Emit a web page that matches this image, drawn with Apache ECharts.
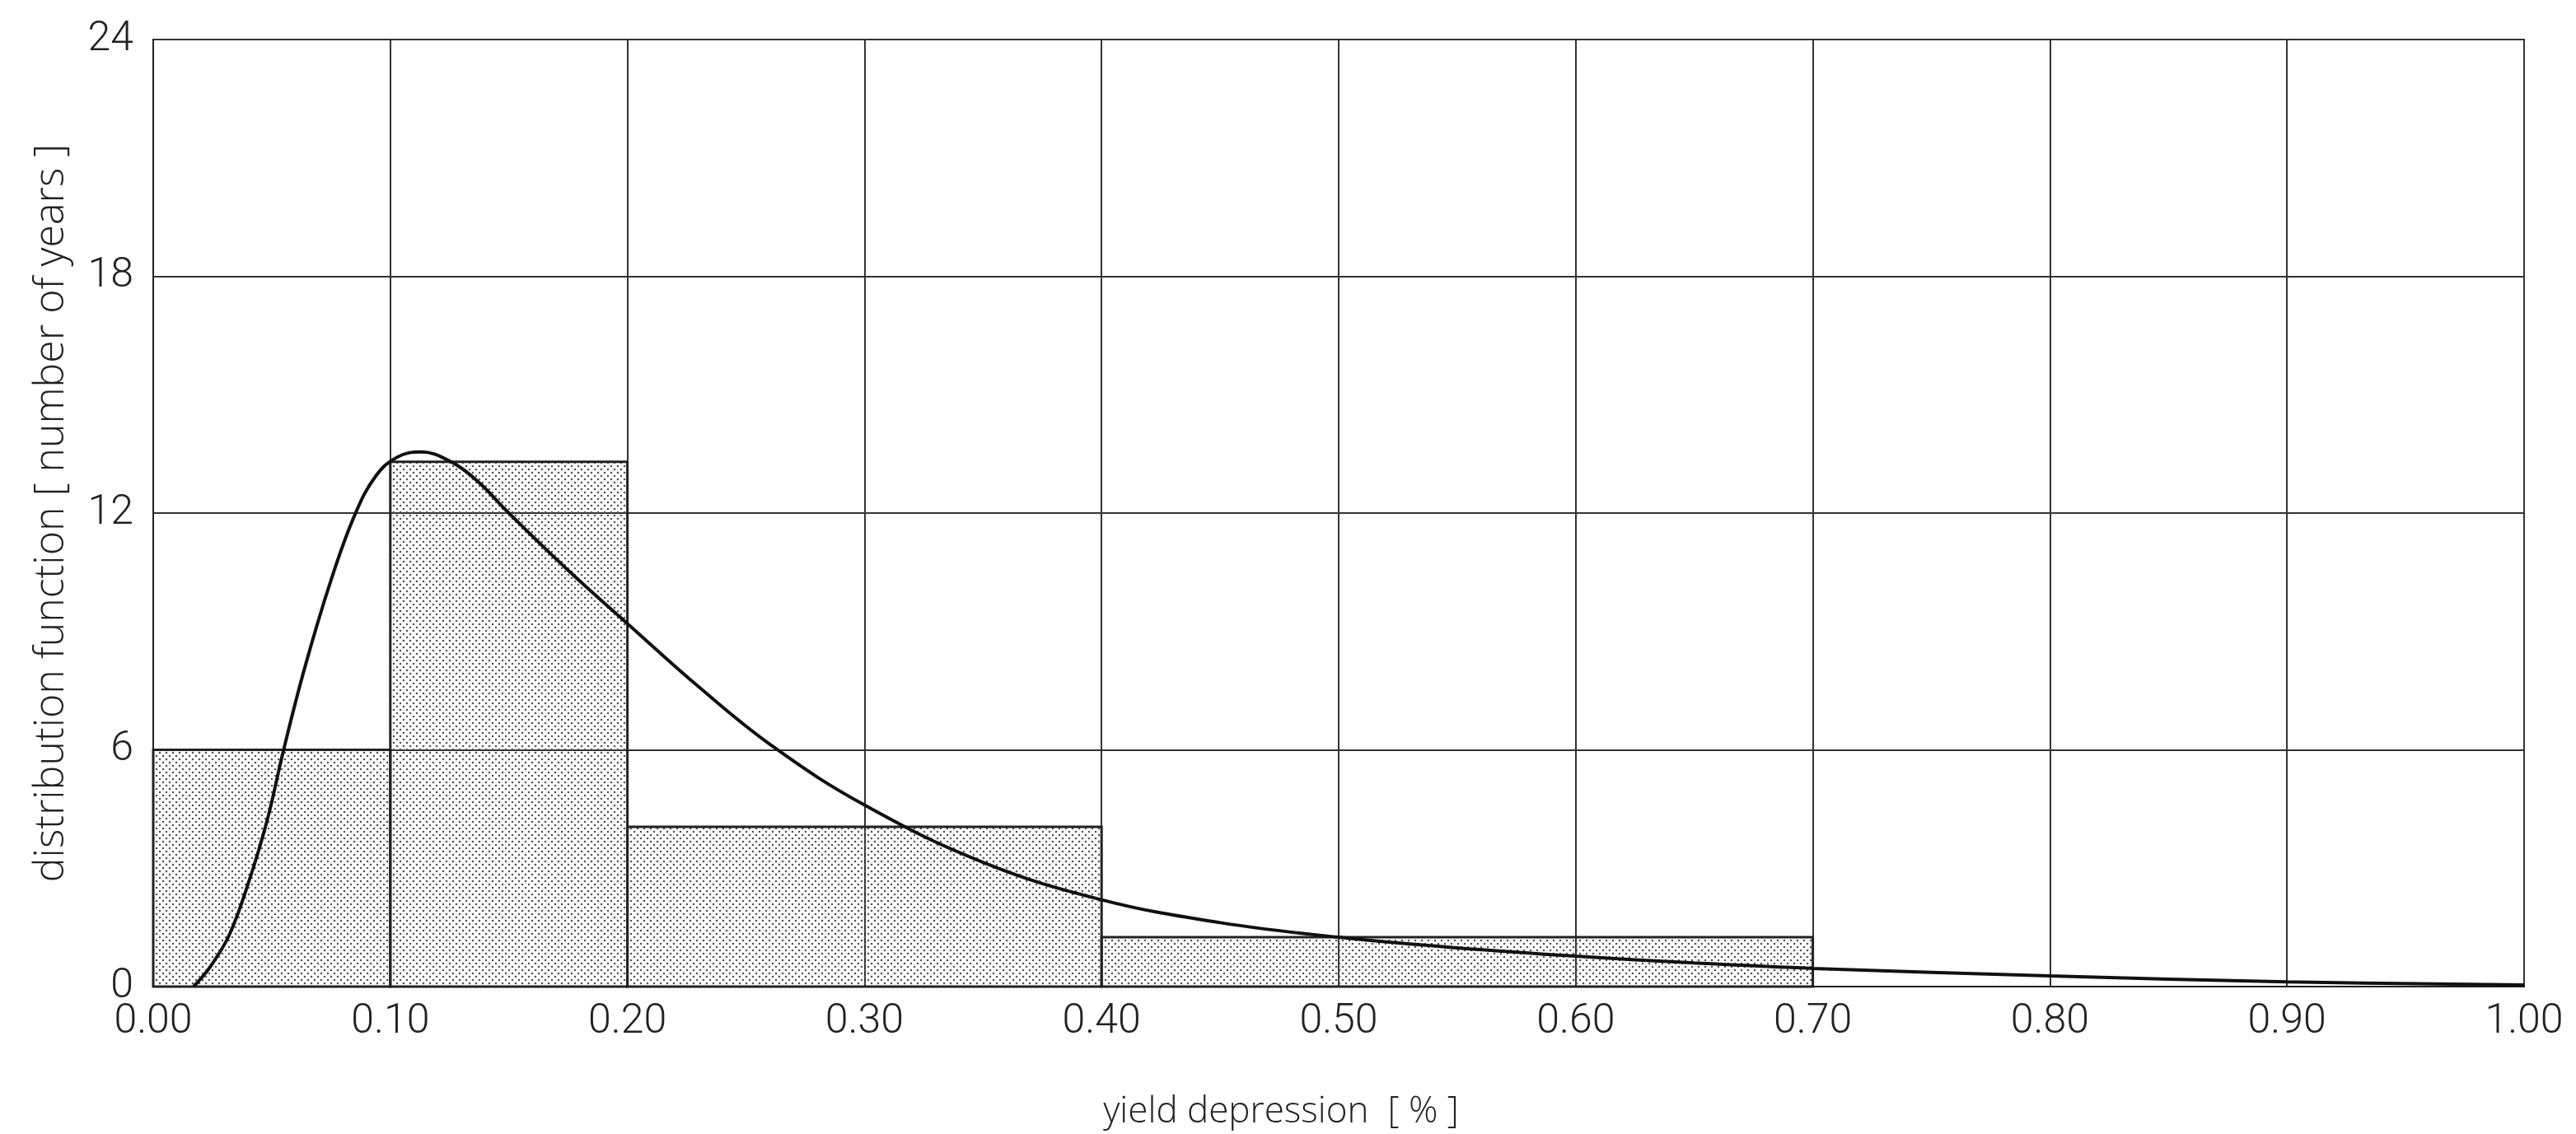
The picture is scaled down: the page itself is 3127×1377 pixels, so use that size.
<!DOCTYPE html>
<html>
<head>
<meta charset="utf-8">
<script src="https://cdn.jsdelivr.net/npm/echarts@6/dist/echarts.min.js"></script>
<style>
  html, body { margin: 0; padding: 0; background: #fff; }
  #main { width: 3127px; height: 1377px; }
</style>
</head>
<body>
<div id="main"></div>
<script>
// histogram bins (yield depression %), counts in years
const binStart = [0.0, 0.1, 0.2, 0.4];
const binEnd = [0.1, 0.2, 0.4, 0.7];
const binCount = [6.0, 13.3, 4.05, 1.25];

// fitted distribution curve
const curveX = [0.017, 0.024, 0.032, 0.040, 0.048, 0.055, 0.064, 0.075, 0.085, 0.094,
  0.103, 0.113, 0.124, 0.136, 0.150, 0.175, 0.200, 0.230, 0.261, 0.300, 0.350, 0.400,
  0.450, 0.500, 0.550, 0.600, 0.650, 0.700, 0.800, 0.900, 1.000];
const curveY = [0, 0.5, 1.3, 2.6, 4.2, 6.0, 8.1, 10.3, 11.95, 12.95,
  13.42, 13.55, 13.35, 12.85, 12.0, 10.55, 9.2, 7.6, 6.1, 4.6, 3.15, 2.2,
  1.62, 1.25, 0.98, 0.77, 0.6, 0.46, 0.27, 0.12, 0.04];

const xTicks = [0, 1, 0.1];
const yTicks = [0, 24, 6];

window.onload = function () {
  const chart = echarts.init(document.getElementById('main'));

  // stipple pattern for the bars
  const pat = document.createElement('canvas');
  pat.width = 8; pat.height = 8;
  const ctx = pat.getContext('2d');
  ctx.fillStyle = '#555';
  ctx.beginPath(); ctx.arc(2, 2, 1.3, 0, Math.PI * 2); ctx.fill();
  ctx.beginPath(); ctx.arc(6, 6, 1.3, 0, Math.PI * 2); ctx.fill();

  const bins = binStart.map((s, i) => [s, binEnd[i], binCount[i]]);
  const font = 'Roboto';
  const titleFont = 'Open Sans';

  const option = {
    backgroundColor: '#fff',
    animation: false,
    grid: {
      left: 186, right: 63, top: 48, bottom: 179,
      show: true, borderColor: '#222', borderWidth: 2
    },
    xAxis: {
      type: 'value',
      min: xTicks[0], max: xTicks[1], interval: xTicks[2],
      name: 'yield depression  [ % ]',
      nameLocation: 'middle',
      nameGap: 130,
      nameTextStyle: { fontFamily: titleFont, fontWeight: 300, fontSize: 44, color: '#222', padding: [0, 140, 0, 0] },
      axisLine: { show: true, lineStyle: { color: '#222', width: 2 } },
      axisTick: { show: false },
      axisLabel: {
        fontFamily: font, fontWeight: 300, fontSize: 50, color: '#222', margin: 18,
        formatter: v => v.toFixed(2)
      },
      splitLine: { show: true, lineStyle: { color: '#333', width: 2 } }
    },
    yAxis: {
      type: 'value',
      min: yTicks[0], max: yTicks[1], interval: yTicks[2],
      name: 'distribution function [ number of years ]',
      nameLocation: 'middle',
      nameRotate: 90,
      nameGap: 98,
      nameTextStyle: { fontFamily: titleFont, fontWeight: 300, fontSize: 50, color: '#222' },
      axisLine: { show: true, lineStyle: { color: '#222', width: 2 } },
      axisTick: { show: false },
      axisLabel: { fontFamily: font, fontWeight: 300, fontSize: 50, color: '#222', margin: 24 },
      splitLine: { show: true, lineStyle: { color: '#333', width: 2 } }
    },
    series: [
      {
        type: 'custom',
        data: bins,
        encode: { x: [0, 1], y: 2 },
        renderItem: function (params, api) {
          const p0 = api.coord([api.value(0), api.value(2)]);
          const p1 = api.coord([api.value(1), 0]);
          return {
            type: 'rect',
            shape: { x: p0[0], y: p0[1], width: p1[0] - p0[0], height: p1[1] - p0[1] },
            style: { fill: { image: pat, repeat: 'repeat' }, stroke: '#222', lineWidth: 3 }
          };
        },
        z: 2
      },
      {
        type: 'line',
        data: curveX.map((x, i) => [x, curveY[i]]),
        smooth: 0.4,
        showSymbol: false,
        lineStyle: { color: '#111', width: 4 },
        z: 3
      }
    ]
  };

  chart.setOption(option, true);
};
</script>
</body>
</html>
